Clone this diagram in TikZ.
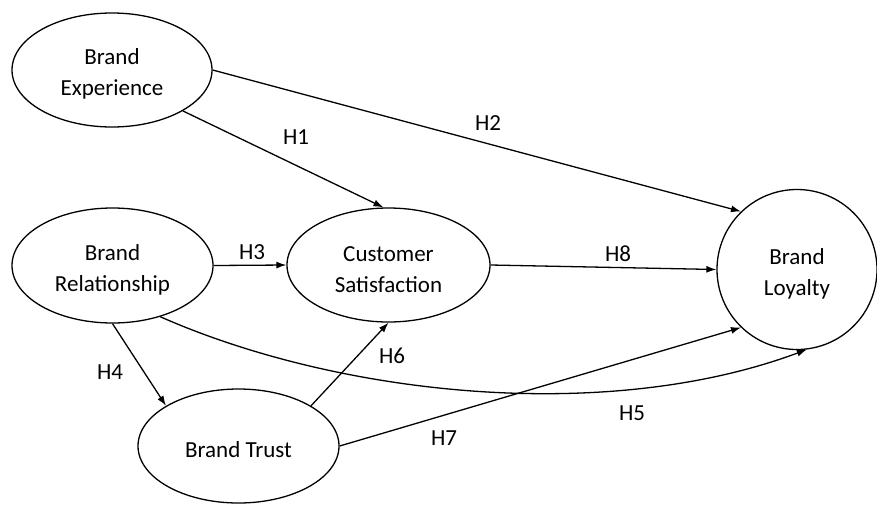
\documentclass[tikz,border=0pt]{standalone}
\usepackage{fontspec}
\setmainfont{Carlito}
\usetikzlibrary{shapes.geometric,arrows.meta}
\newcommand{\toppad}{\rule{0pt}{24pt}}
\tikzset{
  construct/.style={draw, ellipse, line width=1.3pt, inner sep=0pt, align=center,
    font=\fontsize{23}{31}\selectfont},
  circ/.style={draw, circle, line width=1.3pt, inner sep=0pt, align=center,
    minimum size=160pt, font=\fontsize{23}{31}\selectfont},
  hyp/.style={inner sep=0pt, font=\fontsize{23}{28}\selectfont},
  path/.style={line width=1.3pt, -{Latex[length=10pt,width=7pt]}}
}
\begin{document}
\begin{tikzpicture}[x=1pt,y=-1pt]
\useasboundingbox (0,0) rectangle (877,504);
\fill[white] (0,0) rectangle (877,504);
\node[construct, minimum width=200pt, minimum height=114pt] (BE) at (112,70) {\toppad Brand\\Experience};
\node[construct, minimum width=201pt, minimum height=115pt] (BR) at (112.5,265.5) {\toppad Brand\\Relationship};
\node[construct, minimum width=203pt, minimum height=114pt] (CS) at (388.5,265) {\toppad Customer\\Satisfaction};
\node[construct, minimum width=201pt, minimum height=114pt] (BT) at (238.5,446) {\toppad Brand Trust};
\node[circ] (BL) at (797,269.5) {\toppad Brand\\Loyalty};

\draw[path] (BE.-30) -- (CS.95);
\draw[path] (BE.east) -- (BL.134);
\draw[path] (BR.east) -- (CS.west);
\draw[path] (CS.east) -- (BL.west);
\draw[path] (BR.south) -- (BT.151);
\draw[path] (BT.29) -- (CS.south);
\draw[path] (BT.east) -- (BL.226);
\draw[path] (BR.-47) .. controls (340,396) and (607,424) .. (BL.-83);

\node[hyp] (h1) at (296,137) {H1};
\node[hyp] (h2) at (488,123) {H2};
\node[hyp] (h3) at (252,252) {H3};
\node[hyp] (h4) at (110,372) {H4};
\node[hyp] (h5) at (632,413) {H5};
\node[hyp] (h6) at (392,356) {H6};
\node[hyp] (h7) at (444,438) {H7};
\node[hyp] (h8) at (618,254) {H8};
\end{tikzpicture}
\end{document}
